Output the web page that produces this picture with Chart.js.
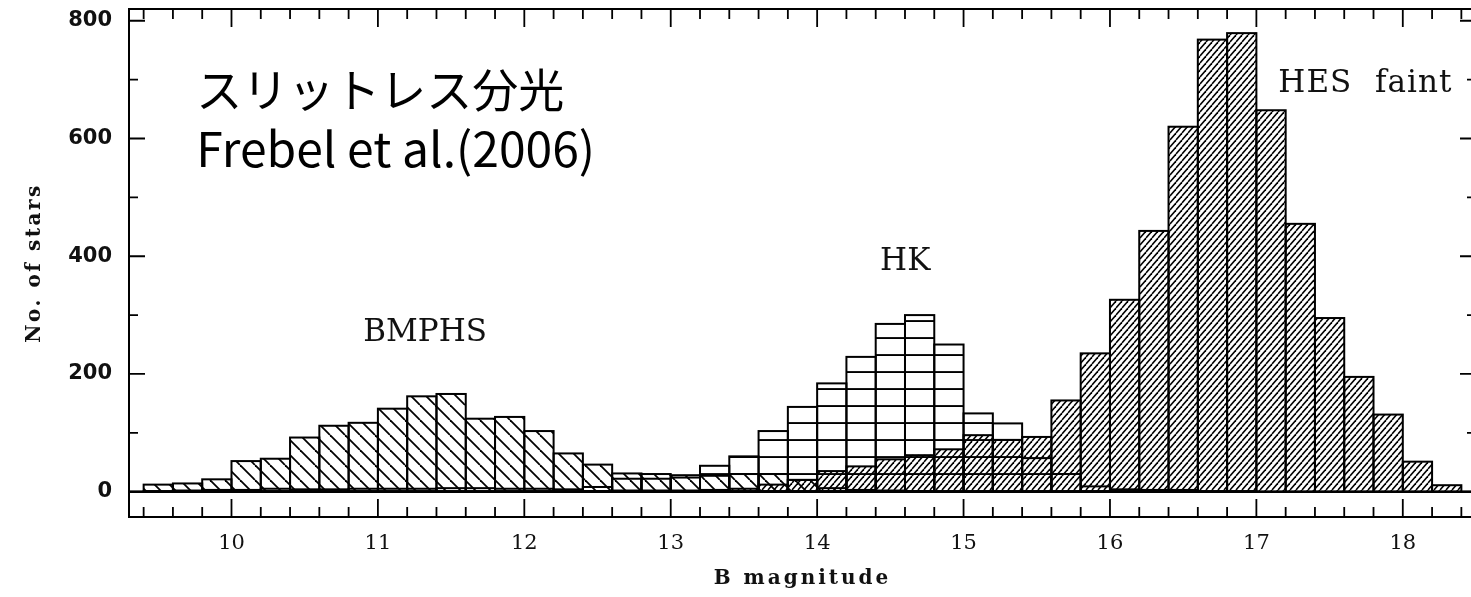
<!DOCTYPE html>
<html lang="ja">
<head>
<meta charset="utf-8">
<title>B magnitude distribution</title>
<script src="https://cdn.jsdelivr.net/npm/chart.js@4.4.1/dist/chart.umd.min.js"></script>
<style>
  html, body { margin: 0; padding: 0; background: #fff; overflow: hidden; }
  #wrap { width: 1471px; height: 597px; overflow: hidden; }
  canvas { display: block; }
</style>
</head>
<body>
<div id="wrap"><canvas id="hist" width="1490" height="597"></canvas></div>
<script>
// =====================================================
// DATA — star counts per 0.2 mag bin (bin centres)
// =====================================================
const binCentres = [
  9.5, 9.7, 9.9, 10.1, 10.3, 10.5, 10.7, 10.9, 11.1, 11.3,
  11.5, 11.7, 11.9, 12.1, 12.3, 12.5, 12.7, 12.9, 13.1, 13.3,
  13.5, 13.7, 13.9, 14.1, 14.3, 14.5, 14.7, 14.9, 15.1, 15.3,
  15.5, 15.7, 15.9, 16.1, 16.3, 16.5, 16.7, 16.9, 17.1, 17.3,
  17.5, 17.7, 17.9, 18.1, 18.3
];

// Bright metal-poor HES stars
const countBMPHS = [
  12, 14, 21, 52, 56, 92, 112, 117, 141, 162,
  166, 124, 127, 103, 65, 46, 31, 30, 28, 27,
  30, 30, 20, 6, 3, 2, 1, 0, 0, 0,
  0, 0, 0, 0, 0, 0, 0, 0, 0, 0,
  0, 0, 0, 0, 0
];

// HK survey
const countHK = [
  1, 2, 3, 3, 5, 4, 4, 5, 5, 5,
  6, 6, 5, 5, 4, 8, 22, 22, 24, 44,
  60, 103, 144, 184, 229, 285, 300, 250, 133, 116,
  57, 30, 9, 4, 3, 3, 1, 1, 0, 0,
  0, 0, 0, 0, 0
];

// HES faint sample
const countHES = [
  0, 0, 0, 0, 0, 0, 0, 0, 0, 0,
  0, 0, 0, 0, 0, 1, 2, 2, 2, 3,
  5, 12, 20, 35, 43, 55, 62, 72, 96, 88,
  93, 155, 235, 326, 443, 620, 768, 779, 648, 455,
  295, 195, 131, 51, 11
];

// Axis tick labels
const magTicks = [10, 11, 12, 13, 14, 15, 16, 17, 18];
const starTicks = [0, 200, 400, 600, 800];

// =====================================================
// HATCH PATTERNS
// =====================================================
const canvas = document.getElementById("hist");
const ctxMain = canvas.getContext("2d");

function makePattern(w, h, paint) {
  const tile = document.createElement("canvas");
  tile.width = w;
  tile.height = h;
  const g = tile.getContext("2d");
  g.strokeStyle = "#000";
  g.fillStyle = "#000";
  paint(g, w, h);
  return ctxMain.createPattern(tile, "repeat");
}

// "\\\" wide hatch
const hatchBack = makePattern(15, 15, (g, w, h) => {
  g.lineWidth = 1.8;
  for (let k = -1; k <= 1; k++) {
    g.beginPath();
    g.moveTo(k * w, 0);
    g.lineTo(k * w + w, h);
    g.stroke();
  }
});

// "///" dense hatch
const hatchFwd = makePattern(6, 7, (g, w, h) => {
  g.lineWidth = 1.5;
  for (let k = -1; k <= 1; k++) {
    g.beginPath();
    g.moveTo(k * w, h);
    g.lineTo(k * w + w, 0);
    g.stroke();
  }
});

// horizontal rules
const hatchFlat = makePattern(4, 17, (g, w) => {
  g.fillRect(0, 14.1, w, 1.9);
});

function toPoints(values) {
  return binCentres.map((c, i) => ({ x: c, y: values[i] }));
}

// =====================================================
// PLUGIN: bar outlines, zero line, boxed frame with
// inward ticks, axis titles and annotations
// =====================================================
const framePlugin = {
  id: "frame",
  afterDatasetsDraw(chart) {
    const { ctx, chartArea: a, scales } = chart;
    const xs = scales.x;
    const ys = scales.y;

    ctx.save();
    ctx.strokeStyle = "#000";

    // step outlines of every bar
    ctx.lineWidth = 2;
    chart.data.datasets.forEach((ds, di) => {
      const meta = chart.getDatasetMeta(di);
      meta.data.forEach((bar, i) => {
        if (!ds.data[i].y) return;
        const p = bar.getProps(["x", "y", "base", "width"], true);
        ctx.strokeRect(p.x - p.width / 2, p.y, p.width, p.base - p.y);
      });
    });

    // zero line
    const y0 = ys.getPixelForValue(0);
    ctx.lineWidth = 2.5;
    ctx.beginPath();
    ctx.moveTo(a.left, y0);
    ctx.lineTo(a.right, y0);
    ctx.stroke();

    // frame
    ctx.lineWidth = 2;
    ctx.strokeRect(a.left, a.top, a.right - a.left, a.bottom - a.top);

    // x ticks every 0.2 mag, longer on whole magnitudes
    ctx.lineWidth = 1.8;
    ctx.beginPath();
    for (let v = 94; v <= 184; v += 2) {
      const px = xs.getPixelForValue(v / 10);
      const len = v % 10 === 0 ? 18 : 10;
      ctx.moveTo(px, a.bottom);
      ctx.lineTo(px, a.bottom - len);
      ctx.moveTo(px, a.top);
      ctx.lineTo(px, a.top + len);
    }
    // y ticks every 100, longer every 200
    for (let v = 0; v <= 800; v += 100) {
      const py = ys.getPixelForValue(v);
      const len = v % 200 === 0 ? 16 : 9;
      ctx.moveTo(a.left, py);
      ctx.lineTo(a.left + len, py);
      ctx.moveTo(a.right, py);
      ctx.lineTo(a.right - len, py);
    }
    ctx.stroke();

    // axis titles
    ctx.fillStyle = "#111";
    ctx.font = "bold 20px 'DejaVu Serif'";
    ctx.letterSpacing = "3px";
    ctx.textAlign = "center";
    ctx.textBaseline = "alphabetic";
    ctx.fillText("B magnitude", (a.left + a.right) / 2, 584);

    ctx.save();
    ctx.translate(40, (a.top + a.bottom) / 2);
    ctx.rotate(-Math.PI / 2);
    ctx.letterSpacing = "2.5px";
    ctx.fillText("No. of stars", 0, 0);
    ctx.restore();

    // sample labels
    ctx.letterSpacing = "0px";
    ctx.textAlign = "left";
    ctx.font = "31px 'DejaVu Serif'";
    ctx.fillText("BMPHS", xs.getPixelForValue(10.9), ys.getPixelForValue(256));
    ctx.fillText("HK", xs.getPixelForValue(14.43), ys.getPixelForValue(377));
    ctx.letterSpacing = "1px";
    ctx.wordSpacing = "12px";
    ctx.fillText("HES faint", xs.getPixelForValue(17.15), ys.getPixelForValue(679));
    ctx.wordSpacing = "0px";

    // source note
    ctx.letterSpacing = "0px";
    ctx.fillStyle = "#000";
    ctx.font = "46px 'Noto Sans CJK JP'";
    ctx.fillText("スリットレス分光", xs.getPixelForValue(9.76), ys.getPixelForValue(654));
    ctx.font = "48px 'Noto Sans CJK JP'";
    ctx.fillText("Frebel et al.(2006)", xs.getPixelForValue(9.76), ys.getPixelForValue(552));

    ctx.restore();
  },
};

// =====================================================
// CHART
// =====================================================
const barStyle = {
  borderWidth: 0,
  grouped: false,
  barPercentage: 1,
  categoryPercentage: 1,
};

new Chart(canvas, {
  type: "bar",
  data: {
    datasets: [
      Object.assign({ label: "BMPHS", data: toPoints(countBMPHS), backgroundColor: hatchBack }, barStyle),
      Object.assign({ label: "HK", data: toPoints(countHK), backgroundColor: hatchFlat }, barStyle),
      Object.assign({ label: "HES faint", data: toPoints(countHES), backgroundColor: hatchFwd }, barStyle),
    ],
  },
  options: {
    responsive: false,
    animation: false,
    events: [],
    layout: { padding: { top: 9, right: 14, left: 0, bottom: 0 } },
    plugins: {
      legend: { display: false },
      tooltip: { enabled: false },
    },
    scales: {
      x: {
        type: "linear",
        min: 9.3,
        max: 18.5,
        offset: false,
        grid: { display: false, drawTicks: false },
        border: { display: false },
        ticks: {
          color: "#111",
          font: { family: "DejaVu Serif", size: 21 },
          padding: 14,
          maxRotation: 0,
          autoSkip: false,
        },
        afterBuildTicks: (s) => { s.ticks = magTicks.map((v) => ({ value: v })); },
        afterFit: (s) => { s.height = 80; s.paddingLeft = 0; s.paddingRight = 0; },
      },
      y: {
        min: -43,
        max: 820,
        grid: { display: false, drawTicks: false },
        border: { display: false },
        ticks: {
          color: "#111",
          font: { family: "DejaVu Sans", size: 21, weight: "bold" },
          padding: 17,
        },
        afterBuildTicks: (s) => { s.ticks = starTicks.map((v) => ({ value: v })); },
        afterFit: (s) => { s.width = 129; s.paddingTop = 0; s.paddingBottom = 0; },
      },
    },
  },
  plugins: [framePlugin],
});
</script>
</body>
</html>
